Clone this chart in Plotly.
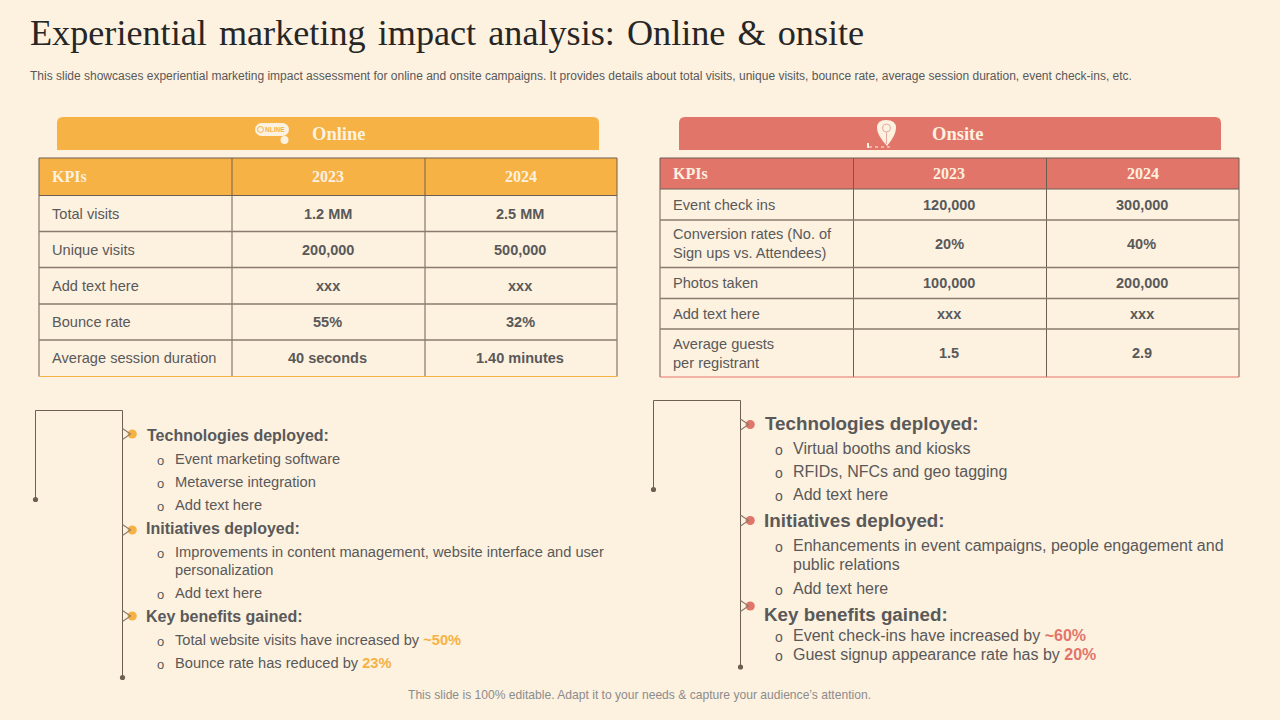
import plotly.graph_objects as go

BG = "#FDF1E0"
ORANGE = "#F6B244"
RED = "#E2756A"
LINE = "#6F5F52"
TEXT = "#595959"

title = "Experiential \u200amarketing \u200aimpact \u200aanalysis: \u200aOnline \u200a& \u200aonsite"
subtitle = ("This slide showcases experiential marketing impact assessment for online and onsite campaigns. "
            "It provides details about total visits, unique visits, bounce rate, average session duration, event check-ins, etc.")
footer = "This slide is 100% editable. Adapt it to your needs & capture your audience\u2019s attention."

header = ["KPIs", "2023", "2024"]

online_kpis = ["Total visits", "Unique visits", "Add text here", "Bounce rate", "Average session duration"]
online_2023 = ["1.2 MM", "200,000", "xxx", "55%", "40 seconds"]
online_2024 = ["2.5 MM", "500,000", "xxx", "32%", "1.40 minutes"]

onsite_kpis = ["Event check ins", "Conversion rates (No. of<br>Sign ups vs. Attendees)", "Photos taken",
               "Add text here", "Average guests<br>per registrant"]
onsite_2023 = ["120,000", "20%", "100,000", "xxx", "1.5"]
onsite_2024 = ["300,000", "40%", "200,000", "xxx", "2.9"]

online_heads = ["Technologies deployed:", "Initiatives deployed:", "Key benefits gained:"]
online_items = [
    ["Event marketing software", "Metaverse integration", "Add text here"],
    ["Improvements in content management, website interface and user", "personalization", "Add text here"],
    ["Total website visits have increased by ", "Bounce rate has reduced by "],
]
online_highlights = ["~50%", "23%"]

onsite_heads = ["Technologies deployed:", "Initiatives deployed:", "Key benefits gained:"]
onsite_items = [
    ["Virtual booths and kiosks", "RFIDs, NFCs and geo tagging", "Add text here"],
    ["Enhancements in event campaigns, people engagement and", "public relations", "Add text here"],
    ["Event check-ins have increased by ", "Guest signup appearance rate has by "],
]
onsite_highlights = ["~60%", "20%"]

fig = go.Figure()


def label(x, y, text, size, color=TEXT, font="Liberation Sans", anchor="left"):
    fig.add_annotation(x=x, y=y, text=text, showarrow=False, xanchor=anchor, yanchor="middle", align="left",
                       borderpad=0, borderwidth=0, font=dict(family=font, size=size, color=color))


def line(x0, y0, x1, y1, color=LINE, width=1):
    fig.add_shape(type="line", x0=x0, y0=y0, x1=x1, y1=y1, line=dict(color=color, width=width))


def dot(cx, cy, r, color):
    fig.add_shape(type="circle", x0=cx - r, y0=cy - r, x1=cx + r, y1=cy + r,
                  fillcolor=color, line=dict(width=0))


def band(x0, x1, y0, y1, color, text, text_x):
    r = 6
    path = (f"M{x0},{y1} L{x0},{y0 + r} Q{x0},{y0} {x0 + r},{y0} L{x1 - r},{y0} "
            f"Q{x1},{y0} {x1},{y0 + r} L{x1},{y1} Z")
    fig.add_shape(type="path", path=path, fillcolor=color, line=dict(width=0))
    label(text_x, (y0 + y1) / 2 + 0.5, f"<b>{text}</b>", 18.5, BG, "Liberation Serif", "center")


def table(xs, ys, color, kpis, col_a, col_b):
    fig.add_shape(type="rect", x0=xs[0], x1=xs[-1], y0=ys[0], y1=ys[1], fillcolor=color, line=dict(width=0))
    for x in xs:
        line(x, ys[0], x, ys[-1])
    for i, y in enumerate(ys):
        if i == len(ys) - 1:
            line(xs[0], y, xs[-1], y, color)
        else:
            line(xs[0], y, xs[-1], y, LINE if i < 2 else "#8A7B6E", 1.1 if i < 2 else 1.3)
    head_y = (ys[0] + ys[1]) / 2
    label(xs[0] + 13, head_y, f"<b>{header[0]}</b>", 16, BG, "Liberation Serif")
    label((xs[1] + xs[2]) / 2 - 1, head_y, f"<b>{header[1]}</b>", 16, BG, "Liberation Serif", "center")
    label((xs[2] + xs[3]) / 2, head_y, f"<b>{header[2]}</b>", 16, BG, "Liberation Serif", "center")
    for i in range(len(kpis)):
        y = (ys[i + 1] + ys[i + 2]) / 2
        label(xs[0] + 13, y, kpis[i], 14.6)
        label((xs[1] + xs[2]) / 2 - 1, y, f"<b>{col_a[i]}</b>", 14.5, anchor="center")
        label((xs[2] + xs[3]) / 2 - 1, y, f"<b>{col_b[i]}</b>", 14.5, anchor="center")


def bracket(x0, x1, top, dot_y, bottom, marks, color):
    line(x0, dot_y, x0, top)
    line(x0, top, x1, top)
    line(x1, top, x1, bottom)
    dot(x0, dot_y, 2.6, LINE)
    dot(x1, bottom, 2.6, LINE)
    for y in marks:
        dot(x1 + 9.7, y, 4.6, color)
        fig.add_shape(type="path", path=f"M{x1},{y - 5.5} L{x1 + 8},{y} L{x1},{y + 5.5}",
                      line=dict(color="#8A7B6E", width=1.1))


def bullets(bx, tx, size, rows, bullet_size):
    for y, text, has_bullet in rows:
        if has_bullet:
            label(bx, y + 1.5, "o", bullet_size)
        label(tx, y, text, size)


# panel headers
band(57, 599, 117, 150, ORANGE, "Online", 338)
band(679, 1221, 117, 150, RED, "Onsite", 957)

# online icon
fig.add_shape(type="rect", x0=261, x1=283, y0=123, y1=136, fillcolor=BG, line=dict(width=0))
dot(261.5, 129.5, 6.5, BG)
dot(282.5, 129.5, 6.5, BG)
fig.add_shape(type="circle", x0=257.5, x1=263.5, y0=126.5, y1=132.5, line=dict(color=ORANGE, width=1))
label(275, 129.5, "<b>NLINE</b>", 6.5, ORANGE, anchor="center")
dot(284.5, 140, 4, BG)

# onsite icon
fig.add_shape(type="path", path="M877,128 Q877,120 886,120 Q896,120 896,128 Q896,135 887,146 Q877,135 877,128 Z",
              fillcolor=BG, line=dict(width=0))
fig.add_shape(type="circle", x0=882.5, x1=890.5, y0=124, y1=132, line=dict(color="#E9A79F", width=1))
line(886.5, 132, 886.5, 144, "#E9A79F", 1)
fig.add_shape(type="line", x0=869, x1=890, y0=147, y1=147, line=dict(color=BG, width=1, dash="dot"))
fig.add_shape(type="line", x0=868, x1=868, y0=143, y1=148, line=dict(color=BG, width=2))

table([39, 232, 425, 617], [158, 195.5, 231.5, 267.5, 304, 340, 376.5], ORANGE, online_kpis, online_2023, online_2024)
table([660, 853.5, 1046.5, 1239], [158, 189, 220, 267.5, 298.5, 329, 377], RED, onsite_kpis, onsite_2023, onsite_2024)

# left notes
bracket(35.5, 122.5, 410.5, 499.5, 677.5, [434, 530, 616], ORANGE)
label(147, 435, f"<b>{online_heads[0]}</b>", 16)
label(146, 528, f"<b>{online_heads[1]}</b>", 16)
label(146, 616, f"<b>{online_heads[2]}</b>", 16)
bullets(157, 175, 14.65, [(458.5, online_items[0][0], True), (481.5, online_items[0][1], True),
                          (505, online_items[0][2], True), (552, online_items[1][0], True),
                          (570, online_items[1][1], False), (592.5, online_items[1][2], True),
                          (639.5, f'{online_items[2][0]}<span style="color:{ORANGE}"><b>{online_highlights[0]}</b></span>', True),
                          (662.5, f'{online_items[2][1]}<span style="color:{ORANGE}"><b>{online_highlights[1]}</b></span>', True)], 13)

# right notes
bracket(653.5, 740.5, 400.5, 489.5, 667, [424.5, 520.5, 606], RED)
label(765, 423, f"<b>{onsite_heads[0]}</b>", 18.8)
label(764, 520, f"<b>{onsite_heads[1]}</b>", 18.8)
label(764, 614, f"<b>{onsite_heads[2]}</b>", 18.8)
bullets(775, 793, 16, [(448.5, onsite_items[0][0], True), (471.5, onsite_items[0][1], True),
                       (494.5, onsite_items[0][2], True), (545.5, onsite_items[1][0], True),
                       (564.5, onsite_items[1][1], False), (588.5, onsite_items[1][2], True),
                       (635.5, f'{onsite_items[2][0]}<span style="color:{RED}"><b>{onsite_highlights[0]}</b></span>', True),
                       (654.5, f'{onsite_items[2][1]}<span style="color:{RED}"><b>{onsite_highlights[1]}</b></span>', True)], 14)

# titles
label(30, 33, title, 36.2, "#262626", "Liberation Serif")
label(30, 76, subtitle, 12, TEXT)
label(639, 694.5, footer, 12.1, "#8C8C8C", anchor="center")

fig.update_xaxes(range=[0, 1280], visible=False, fixedrange=True)
fig.update_yaxes(range=[720, 0], visible=False, fixedrange=True)
fig.update_layout(width=1280, height=720, margin=dict(l=0, r=0, t=0, b=0), paper_bgcolor=BG, plot_bgcolor=BG,
                  showlegend=False)
# drop the browser's default page margin so the slide fills the window
fig.write_html("out.html", config={"displayModeBar": False},
               post_script="document.body.style.margin='0';document.documentElement.style.overflow='hidden';")
